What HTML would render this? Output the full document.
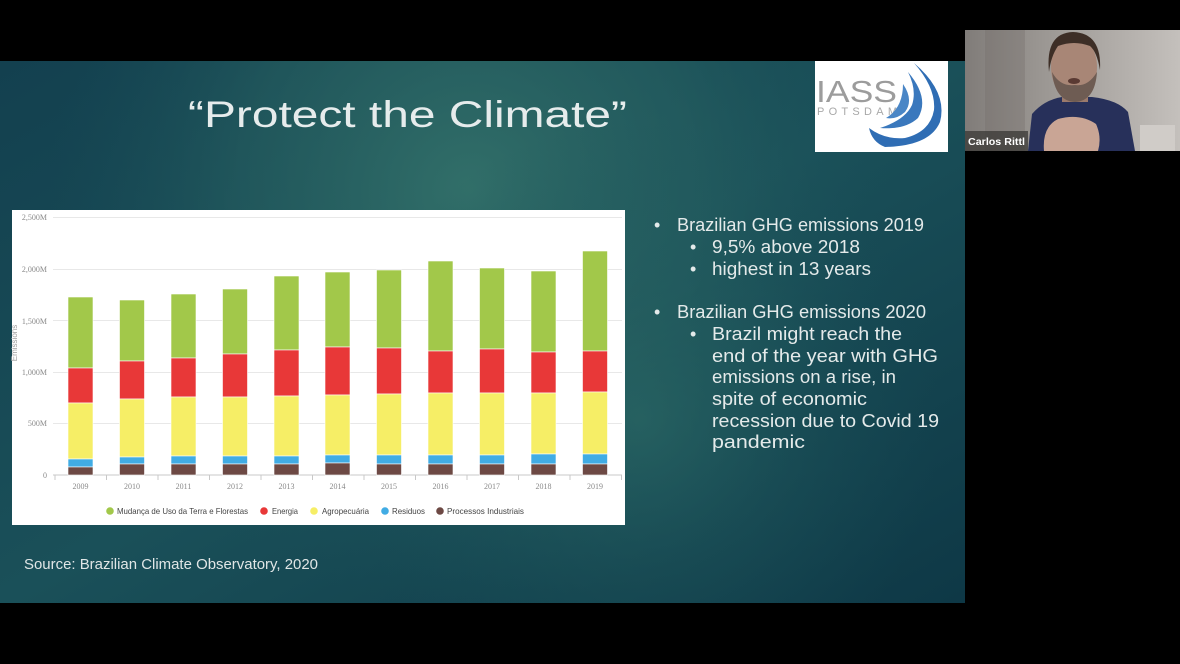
<!DOCTYPE html>
<html><head><meta charset="utf-8"><style>
html,body{margin:0;padding:0;background:#000;width:1180px;height:664px;overflow:hidden}
svg{display:block}
</style></head><body>
<svg width="1180" height="664" viewBox="0 0 1180 664" xmlns="http://www.w3.org/2000/svg">
<defs>
<linearGradient id="base" x1="0" y1="0" x2="1" y2="1">
<stop offset="0" stop-color="#13404f"/>
<stop offset="0.5" stop-color="#1a5059"/>
<stop offset="1" stop-color="#0e3846"/>
</linearGradient>
<radialGradient id="glow1" cx="470" cy="190" r="420" gradientUnits="userSpaceOnUse">
<stop offset="0" stop-color="#33716a" stop-opacity="0.95"/>
<stop offset="0.55" stop-color="#2a6563" stop-opacity="0.5"/>
<stop offset="1" stop-color="#1a5059" stop-opacity="0"/>
</radialGradient>
<radialGradient id="glow2" cx="640" cy="420" r="300" gradientUnits="userSpaceOnUse">
<stop offset="0" stop-color="#2a6764" stop-opacity="0.7"/>
<stop offset="1" stop-color="#1a5059" stop-opacity="0"/>
</radialGradient>
<linearGradient id="wall" x1="0" y1="0" x2="1" y2="0">
<stop offset="0" stop-color="#807c79"/>
<stop offset="0.35" stop-color="#9a9692"/>
<stop offset="1" stop-color="#c4c0bc"/>
</linearGradient>
</defs>

<!-- slide -->
<rect x="0" y="61" width="965" height="542" fill="url(#base)"/>
<rect x="0" y="61" width="965" height="542" fill="url(#glow1)"/>
<rect x="0" y="61" width="965" height="542" fill="url(#glow2)"/>

<!-- title -->
<text x="188" y="127" font-family="Liberation Sans, sans-serif" font-size="37" fill="#e6ecec" textLength="439" lengthAdjust="spacingAndGlyphs">“Protect the Climate”</text>

<!-- logo -->
<rect x="815" y="61" width="133" height="91" fill="#fff"/>
<text x="816" y="102" font-family="Liberation Sans, sans-serif" font-size="31" fill="#9c9c9c" textLength="81" lengthAdjust="spacingAndGlyphs">IASS</text>
<text x="817" y="115" font-family="Liberation Sans, sans-serif" font-size="11" fill="#a8a8a8" textLength="80" lengthAdjust="spacing">POTSDAM</text>
<path d="M914 63 Q948 92 940 122 Q930 146 885 147 Q872 142 869 128 Q885 140 905 138 Q930 132 934 110 Q936 88 914 63 Z" fill="#2f6db4"/>
<path d="M908 72 Q930 98 918 118 Q905 130 880 128 Q905 120 912 105 Q917 90 908 72 Z" fill="#3a78bd"/>
<path d="M903 84 Q914 100 905 112 Q896 120 886 118 Q903 108 903 84 Z" fill="#4a86c6"/>

<!-- chart -->
<rect x="12" y="210" width="613" height="315" fill="#fff"/>
<g stroke="#e8e8e8" stroke-width="1">
<line x1="53" y1="217.5" x2="622" y2="217.5"/>
<line x1="53" y1="269.5" x2="622" y2="269.5"/>
<line x1="53" y1="320.5" x2="622" y2="320.5"/>
<line x1="53" y1="372.5" x2="622" y2="372.5"/>
<line x1="53" y1="423.5" x2="622" y2="423.5"/>
</g>
<line x1="53" y1="475" x2="622" y2="475" stroke="#c8c8c8" stroke-width="1"/>
<g stroke="#c8c8c8" stroke-width="1">
<line x1="55" y1="475" x2="55" y2="480"/><line x1="106.5" y1="475" x2="106.5" y2="480"/><line x1="158" y1="475" x2="158" y2="480"/><line x1="209.5" y1="475" x2="209.5" y2="480"/><line x1="261" y1="475" x2="261" y2="480"/><line x1="312.5" y1="475" x2="312.5" y2="480"/><line x1="364" y1="475" x2="364" y2="480"/><line x1="415.5" y1="475" x2="415.5" y2="480"/><line x1="467" y1="475" x2="467" y2="480"/><line x1="518.5" y1="475" x2="518.5" y2="480"/><line x1="570" y1="475" x2="570" y2="480"/><line x1="621.5" y1="475" x2="621.5" y2="480"/>
</g>
<g font-family="Liberation Serif, serif" font-size="8" fill="#8a8a8a" text-anchor="end">
<text x="47" y="220">2,500M</text>
<text x="47" y="272">2,000M</text>
<text x="47" y="324">1,500M</text>
<text x="47" y="375">1,000M</text>
<text x="47" y="426">500M</text>
<text x="47" y="478">0</text>
</g>
<text x="0" y="0" transform="translate(17,343) rotate(-90)" font-family="Liberation Sans, sans-serif" font-size="8" fill="#a0a0a0" text-anchor="middle">Emissions</text>

<g id="bars" stroke="#fff" stroke-width="0.6">
<rect x="68" y="297" width="25" height="71" fill="#a2c84a"/><rect x="68" y="368" width="25" height="35" fill="#e83838"/><rect x="68" y="403" width="25" height="56" fill="#f6ee66"/><rect x="68" y="459" width="25" height="8" fill="#41ace4"/><rect x="68" y="467" width="25" height="8" fill="#6d4944"/>
<rect x="119.5" y="300" width="25" height="61" fill="#a2c84a"/><rect x="119.5" y="361" width="25" height="38" fill="#e83838"/><rect x="119.5" y="399" width="25" height="58" fill="#f6ee66"/><rect x="119.5" y="457" width="25" height="7" fill="#41ace4"/><rect x="119.5" y="464" width="25" height="11" fill="#6d4944"/>
<rect x="171" y="294" width="25" height="64" fill="#a2c84a"/><rect x="171" y="358" width="25" height="39" fill="#e83838"/><rect x="171" y="397" width="25" height="59" fill="#f6ee66"/><rect x="171" y="456" width="25" height="8" fill="#41ace4"/><rect x="171" y="464" width="25" height="11" fill="#6d4944"/>
<rect x="222.5" y="289" width="25" height="65" fill="#a2c84a"/><rect x="222.5" y="354" width="25" height="43" fill="#e83838"/><rect x="222.5" y="397" width="25" height="59" fill="#f6ee66"/><rect x="222.5" y="456" width="25" height="8" fill="#41ace4"/><rect x="222.5" y="464" width="25" height="11" fill="#6d4944"/>
<rect x="274" y="276" width="25" height="74" fill="#a2c84a"/><rect x="274" y="350" width="25" height="46" fill="#e83838"/><rect x="274" y="396" width="25" height="60" fill="#f6ee66"/><rect x="274" y="456" width="25" height="8" fill="#41ace4"/><rect x="274" y="464" width="25" height="11" fill="#6d4944"/>
<rect x="325" y="272" width="25" height="75" fill="#a2c84a"/><rect x="325" y="347" width="25" height="48" fill="#e83838"/><rect x="325" y="395" width="25" height="60" fill="#f6ee66"/><rect x="325" y="455" width="25" height="8" fill="#41ace4"/><rect x="325" y="463" width="25" height="12" fill="#6d4944"/>
<rect x="376.5" y="270" width="25" height="78" fill="#a2c84a"/><rect x="376.5" y="348" width="25" height="46" fill="#e83838"/><rect x="376.5" y="394" width="25" height="61" fill="#f6ee66"/><rect x="376.5" y="455" width="25" height="9" fill="#41ace4"/><rect x="376.5" y="464" width="25" height="11" fill="#6d4944"/>
<rect x="428" y="261" width="25" height="90" fill="#a2c84a"/><rect x="428" y="351" width="25" height="42" fill="#e83838"/><rect x="428" y="393" width="25" height="62" fill="#f6ee66"/><rect x="428" y="455" width="25" height="9" fill="#41ace4"/><rect x="428" y="464" width="25" height="11" fill="#6d4944"/>
<rect x="479.5" y="268" width="25" height="81" fill="#a2c84a"/><rect x="479.5" y="349" width="25" height="44" fill="#e83838"/><rect x="479.5" y="393" width="25" height="62" fill="#f6ee66"/><rect x="479.5" y="455" width="25" height="9" fill="#41ace4"/><rect x="479.5" y="464" width="25" height="11" fill="#6d4944"/>
<rect x="531" y="271" width="25" height="81" fill="#a2c84a"/><rect x="531" y="352" width="25" height="41" fill="#e83838"/><rect x="531" y="393" width="25" height="61" fill="#f6ee66"/><rect x="531" y="454" width="25" height="10" fill="#41ace4"/><rect x="531" y="464" width="25" height="11" fill="#6d4944"/>
<rect x="582.5" y="251" width="25" height="100" fill="#a2c84a"/><rect x="582.5" y="351" width="25" height="41" fill="#e83838"/><rect x="582.5" y="392" width="25" height="62" fill="#f6ee66"/><rect x="582.5" y="454" width="25" height="10" fill="#41ace4"/><rect x="582.5" y="464" width="25" height="11" fill="#6d4944"/>
</g>

<g font-family="Liberation Serif, serif" font-size="8" fill="#8a8a8a" text-anchor="middle">
<text x="80.5" y="489">2009</text><text x="132" y="489">2010</text><text x="183.5" y="489">2011</text><text x="235" y="489">2012</text><text x="286.5" y="489">2013</text><text x="337.5" y="489">2014</text><text x="389" y="489">2015</text><text x="440.5" y="489">2016</text><text x="492" y="489">2017</text><text x="543.5" y="489">2018</text><text x="595" y="489">2019</text>
</g>

<g font-family="Liberation Sans, sans-serif" font-size="8.5" fill="#444">
<circle cx="110" cy="511" r="3.8" fill="#a2c84a"/>
<text x="117" y="514" textLength="131" lengthAdjust="spacingAndGlyphs">Mudança de Uso da Terra e Florestas</text>
<circle cx="264" cy="511" r="3.8" fill="#e83838"/>
<text x="272" y="514" textLength="26" lengthAdjust="spacingAndGlyphs">Energia</text>
<circle cx="314" cy="511" r="3.8" fill="#f6ee66"/>
<text x="322" y="514" textLength="47" lengthAdjust="spacingAndGlyphs">Agropecuária</text>
<circle cx="385" cy="511" r="3.8" fill="#41ace4"/>
<text x="392" y="514" textLength="33" lengthAdjust="spacingAndGlyphs">Residuos</text>
<circle cx="440" cy="511" r="3.8" fill="#6d4944"/>
<text x="447" y="514" textLength="77" lengthAdjust="spacingAndGlyphs">Processos Industriais</text>
</g>

<!-- bullets -->
<g font-family="Liberation Sans, sans-serif" font-size="18" fill="#e4eaea">
<text x="654" y="231">•</text>
<text x="677" y="231" textLength="247" lengthAdjust="spacingAndGlyphs">Brazilian GHG emissions 2019</text>
<text x="690" y="253">•</text>
<text x="712" y="253" textLength="148" lengthAdjust="spacingAndGlyphs">9,5% above 2018</text>
<text x="690" y="275">•</text>
<text x="712" y="275" textLength="159" lengthAdjust="spacingAndGlyphs">highest in 13 years</text>
<text x="654" y="318">•</text>
<text x="677" y="318" textLength="249" lengthAdjust="spacingAndGlyphs">Brazilian GHG emissions 2020</text>
<text x="690" y="340">•</text>
<text x="712" y="340" textLength="190" lengthAdjust="spacingAndGlyphs">Brazil might reach the</text>
<text x="712" y="362" textLength="226" lengthAdjust="spacingAndGlyphs">end of the year with GHG</text>
<text x="712" y="383" textLength="184" lengthAdjust="spacingAndGlyphs">emissions on a rise, in</text>
<text x="712" y="405" textLength="155" lengthAdjust="spacingAndGlyphs">spite of economic</text>
<text x="712" y="427" textLength="227" lengthAdjust="spacingAndGlyphs">recession due to Covid 19</text>
<text x="712" y="448" textLength="93" lengthAdjust="spacingAndGlyphs">pandemic</text>
</g>

<text x="24" y="569" font-family="Liberation Sans, sans-serif" font-size="15" fill="#e0e6e6" textLength="294" lengthAdjust="spacingAndGlyphs">Source: Brazilian Climate Observatory, 2020</text>

<!-- webcam -->
<rect x="965" y="30" width="215" height="121" fill="url(#wall)"/>
<rect x="985" y="30" width="40" height="121" fill="#6f6b68" opacity="0.3"/>
<rect x="1140" y="125" width="35" height="26" fill="#d0ccc8"/>
<path d="M1028 151 L1032 114 Q1044 100 1062 97 L1092 97 Q1118 100 1128 112 L1135 151 Z" fill="#27305a"/>
<rect x="1062" y="88" width="26" height="14" fill="#9b7a6c"/>
<ellipse cx="1074" cy="67" rx="23" ry="32" fill="#a88676"/>
<path d="M1052 72 Q1055 101 1075 102 Q1095 101 1097 72 Q1088 87 1075 85 Q1060 87 1052 72 Z" fill="#6e5c53"/>
<ellipse cx="1074" cy="81" rx="6" ry="3" fill="#5a3a33"/>
<path d="M1049 72 Q1045 33 1073 32 Q1102 33 1100 70 Q1097 52 1090 46 Q1074 40 1058 46 Q1051 56 1049 72 Z" fill="#3d2e26"/>
<path d="M1044 151 Q1042 127 1058 119 Q1080 113 1096 124 Q1102 137 1098 151 Z" fill="#c9a595"/>
<rect x="965" y="131" width="63" height="20" fill="#3a3836" opacity="0.75"/>
<text x="968" y="145" font-family="Liberation Sans, sans-serif" font-size="10.5" font-weight="bold" fill="#ffffff" textLength="57" lengthAdjust="spacingAndGlyphs">Carlos Rittl</text>
</svg>
</body></html>
